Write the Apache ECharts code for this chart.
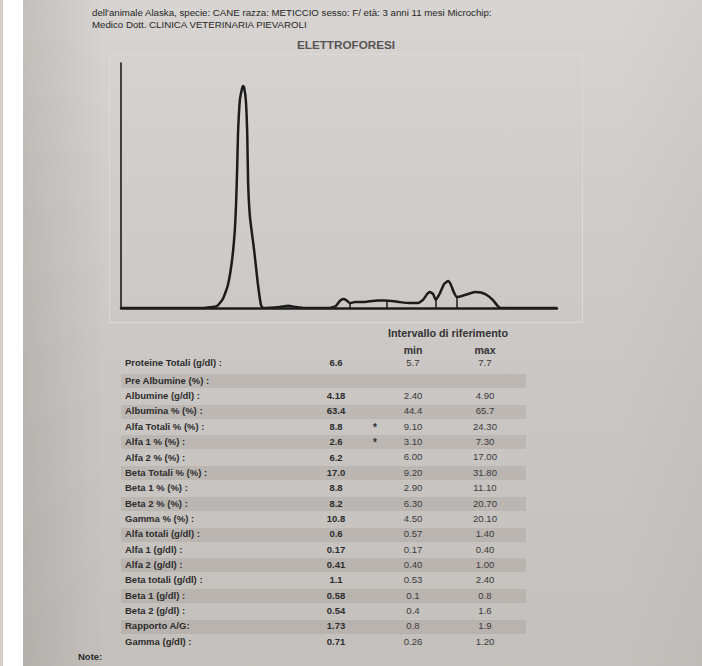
<!DOCTYPE html>
<html>
<head>
<meta charset="utf-8">
<script src="https://cdn.jsdelivr.net/npm/echarts@6/dist/echarts.min.js"></script>
<style>
  html, body { margin: 0; padding: 0; width: 702px; height: 666px; overflow: hidden; background: #ffffff; font-family: "Liberation Sans", Arial, sans-serif; }
  #edge { position: absolute; left: 0; top: 0; width: 3px; height: 666px; background: #d7cfc6; }
  #photo { position: absolute; left: 23px; top: 0; width: 679px; height: 666px;
    background: linear-gradient(180deg, #d7d4d1 0%, #d0ccc9 30%, #cac6c3 60%, #c4c0bc 100%); overflow: hidden; }
  #shade { position: absolute; left: 0; top: 0; width: 100%; height: 100%;
    background: linear-gradient(90deg, rgba(80,70,60,0.14) 0%, rgba(80,70,60,0.0) 12%, rgba(80,70,60,0) 88%, rgba(80,70,60,0.04) 100%); }
  #frame { position: absolute; left: 109px; top: 54px; width: 474px; height: 269px; border: 1px solid #dcd9d6; box-sizing: border-box; }
  #chart { position: absolute; left: 0; top: 0; width: 702px; height: 666px; }
  .t { position: absolute; white-space: nowrap; color: #2c2c2c; line-height: 1; }
  .band { position: absolute; left: 121px; width: 405px; height: 14px; background: rgba(95,85,75,0.12); }
</style>
</head>
<body>
<div id="edge"></div>
<div id="photo"><div id="shade"></div></div>
<div id="frame"></div>
<div id="texts"></div>
<div id="chart"></div>
<script>
// ---- header texts ----
const headerLines = [
  "dell'animale Alaska, specie: CANE razza: METICCIO sesso: F/ età: 3 anni 11 mesi Microchip:",
  "Medico Dott. CLINICA VETERINARIA PIEVAROLI"
];
const chartTitle = "ELETTROFORESI";
const rangeTitle = "Intervallo di riferimento";
const rangeCols = ["min", "max"];
const noteLabel = "Note:";

// ---- electrophoresis curve (mobility, relative density) ----
const curveX = [0, 12.9, 17.9, 20.9, 22.2, 23.3, 24.2, 24.8, 25.1, 25.3, 25.5, 25.9, 26.4, 26.6, 26.8, 27.2, 27.5, 27.7, 28.1, 29.0, 29.8, 30.5, 30.9,
  34.6, 36.4, 38.1, 40.1, 45.5, 46.8, 47.7, 48.4, 49.0, 49.9, 51.0, 53.2, 54.7, 56.0, 57.5, 59.0, 60.8, 63.0, 64.7, 65.8, 66.7, 67.3, 68.0, 68.6,
  69.5, 70.4, 71.3, 71.9, 72.5, 73.2, 74.3, 75.6, 77.1, 78.4, 79.7, 81.0, 82.1, 82.8, 95];
const curveY = [0, 0, 0, 0.8, 3.7, 9.4, 19.6, 31.8, 44, 56.3, 71.4, 84.9, 89.8, 90.6, 90.2, 84.9, 71.4, 51, 37.1, 23.7, 10.2, 1.2, 0,
  0.4, 0.9, 0.4, 0, 0, 0.8, 2.9, 3.7, 3.3, 2.0, 2.4, 2.4, 2.9, 3.1, 3.1, 2.9, 2.4, 2.0, 2.0, 3.3, 5.7, 6.5, 5.7, 3.3,
  6.1, 9.8, 11.0, 9.4, 6.5, 4.5, 4.9, 5.7, 6.5, 6.3, 5.3, 3.3, 0.8, 0, 0];
const dividerX = [49.9, 58.0, 68.6, 73.2];
const dividerY = [2.0, 3.1, 3.3, 4.5];

// ---- results table ----
const rowLabels = ["Proteine Totali (g/dl) :", "Pre Albumine (%) :", "Albumine (g/dl) :", "Albumina % (%) :", "Alfa Totali % (%) :",
  "Alfa 1 % (%) :", "Alfa 2 % (%) :", "Beta Totali % (%) :", "Beta 1 % (%) :", "Beta 2 % (%) :", "Gamma % (%) :",
  "Alfa totali (g/dl) :", "Alfa 1 (g/dl) :", "Alfa 2 (g/dl) :", "Beta totali (g/dl) :", "Beta 1 (g/dl) :", "Beta 2 (g/dl) :",
  "Rapporto A/G:", "Gamma (g/dl) :"];
const rowValues = ["6.6", "", "4.18", "63.4", "8.8", "2.6", "6.2", "17.0", "8.8", "8.2", "10.8", "0.6", "0.17", "0.41", "1.1", "0.58", "0.54", "1.73", "0.71"];
const rowFlags = ["", "", "", "", "*", "*", "", "", "", "", "", "", "", "", "", "", "", "", ""];
const rowMin = ["5.7", "", "2.40", "44.4", "9.10", "3.10", "6.00", "9.20", "2.90", "6.30", "4.50", "0.57", "0.17", "0.40", "0.53", "0.1", "0.4", "0.8", "0.26"];
const rowMax = ["7.7", "", "4.90", "65.7", "24.30", "7.30", "17.00", "31.80", "11.10", "20.70", "20.10", "1.40", "0.40", "1.00", "2.40", "0.8", "1.6", "1.9", "1.20"];

// ---- build texts ----
const box = document.getElementById('texts');
function addText(str, x, y, opts) {
  const d = document.createElement('div');
  d.className = 't';
  d.textContent = str;
  d.style.fontSize = (opts.size || 9.5) + 'px';
  d.style.fontWeight = opts.bold ? 'bold' : 'normal';
  if (opts.color) d.style.color = opts.color;
  d.style.top = (y - (opts.size || 9.5) * 0.55) + 'px';
  if (opts.align === 'center') { d.style.left = x + 'px'; d.style.transform = 'translateX(-50%)'; }
  else d.style.left = x + 'px';
  box.appendChild(d);
  return d;
}
function rowCenter(i) { return i === 0 ? 363 : 381 + (i - 1) * 15.35; }
rowLabels.forEach((_, i) => {
  if (i % 2 === 1) {
    const b = document.createElement('div');
    b.className = 'band';
    b.style.top = (rowCenter(i) - 7) + 'px';
    box.appendChild(b);
  }
});
addText(headerLines[0], 92, 13, { size: 9.7, color: '#262626' });
addText(headerLines[1], 92, 25, { size: 9.7, color: '#262626' });
addText(chartTitle, 346, 45, { size: 11.7, bold: true, align: 'center', color: '#555555' });
addText(rangeTitle, 448, 334, { size: 10.8, bold: true, align: 'center', color: '#333333' });
addText(rangeCols[0], 413, 351, { size: 10.5, bold: true, align: 'center', color: '#333333' });
addText(rangeCols[1], 485, 351, { size: 10.5, bold: true, align: 'center', color: '#333333' });
addText(noteLabel, 78, 657, { size: 9.5, bold: true, color: '#2a2a2a' });
rowLabels.forEach((lab, i) => {
  const y = rowCenter(i);
  addText(lab, 125, y, { size: 9.5, bold: true });
  if (rowValues[i]) addText(rowValues[i], 336, y, { size: 9.5, bold: true, align: 'center' });
  if (rowFlags[i]) addText(rowFlags[i], 375, y + 1, { size: 10, bold: true, align: 'center' });
  if (rowMin[i]) addText(rowMin[i], 413, y, { size: 9.6, align: 'center', color: '#3a3a3a' });
  if (rowMax[i]) addText(rowMax[i], 485, y, { size: 9.6, align: 'center', color: '#3a3a3a' });
});

// ---- chart ----
const chart = echarts.init(document.getElementById('chart'), null, { renderer: 'svg' });
const curveData = curveX.map((x, i) => [x, curveY[i]]);
chart.setOption({
  backgroundColor: 'transparent',
  animation: false,
  grid: { left: 121, top: 63, width: 436, height: 245 },
  xAxis: {
    type: 'value', min: 0, max: 95,
    axisLine: { show: true, lineStyle: { color: '#1c1c1c', width: 2.5 } },
    axisTick: { show: false }, axisLabel: { show: false }, splitLine: { show: false }
  },
  yAxis: {
    type: 'value', min: 0, max: 100,
    axisLine: { show: true, lineStyle: { color: '#1c1c1c', width: 1.6 } },
    axisTick: { show: false }, axisLabel: { show: false }, splitLine: { show: false }
  },
  series: [{
    type: 'line',
    data: curveData,
    symbol: 'none',
    smooth: 0.15,
    lineStyle: { color: '#1c1c1c', width: 2.5 },
    z: 3,
    markLine: {
      symbol: ['none', 'none'],
      silent: true,
      label: { show: false },
      lineStyle: { color: '#1c1c1c', width: 1.5, type: 'solid' },
      data: dividerX.map((x, i) => [{ coord: [x, 0] }, { coord: [x, dividerY[i]] }])
    }
  }]
});
</script>
</body>
</html>
